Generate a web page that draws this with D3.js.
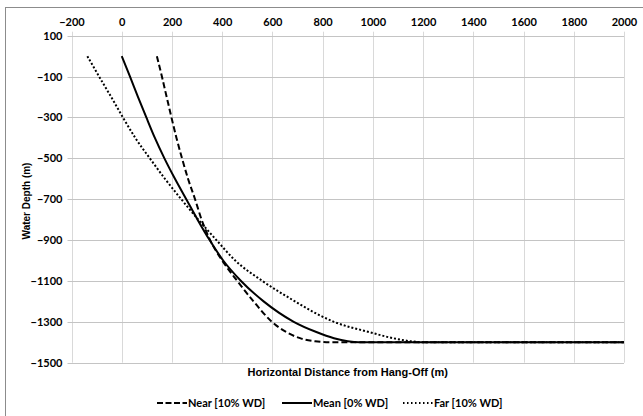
<!DOCTYPE html>
<html>
<head>
<meta charset="utf-8">
<script src="https://cdn.jsdelivr.net/npm/d3@7/dist/d3.min.js"></script>
<style>
body{margin:0;background:#fff;}
svg{display:block;}
</style>
</head>
<body>
<svg id="chart" width="643" height="416"></svg>
<script>
// ---- data ----
const xTicks = [-200,0,200,400,600,800,1000,1200,1400,1600,1800,2000];
const yTicks = [100,-100,-300,-500,-700,-900,-1100,-1300,-1500];

const nearX = [140,160,179,198,218,240,264,292,318,352,400,460,525,598,655,710,770,830,2000];
const nearY = [0,-100,-200,-300,-400,-500,-600,-700,-800,-900,-1000,-1100,-1200,-1300,-1350,-1380,-1395,-1400,-1400];

const meanX = [0,33,65,98,132,170,212,257,302,350,404,475,565,685,775,845,900,945,2000];
const meanY = [0,-100,-200,-300,-400,-500,-600,-700,-800,-900,-1000,-1100,-1200,-1300,-1350,-1380,-1395,-1400,-1400];

const farX = [-137,-90,-42,5,54,112,172,237,305,377,452,560,690,760,845,985,1080,1150,1200,2000];
const farY = [0,-100,-200,-300,-400,-500,-600,-700,-800,-900,-1000,-1100,-1200,-1250,-1300,-1350,-1380,-1395,-1400,-1400];

const seriesNames = ["Near [10% WD]","Mean [0% WD]","Far [10% WD]"];
const xTitle = "Horizontal Distance from Hang-Off (m)";
const yTitle = "Water Depth (m)";

// ---- chart ----
(function(){
const svg = d3.select("#chart");
const pLeft = 71.5, pRight = 624, pTop = 35.7, pBottom = 362.7;
const x = d3.scaleLinear().domain([-200,2000]).range([pLeft,pRight]);
const y = d3.scaleLinear().domain([100,-1500]).range([pTop,pBottom]);

svg.append("rect").attr("x",5.5).attr("y",7.5).attr("width",700).attr("height",500)
  .attr("fill","#fff").attr("stroke","#8c8c8c").attr("stroke-width",1);

const tickFont = "Lato, 'Open Sans', sans-serif";

// vertical grid
svg.append("g").selectAll("line").data(xTicks).join("line")
  .attr("x1",d=>Math.round(x(d))+0.5).attr("x2",d=>Math.round(x(d))+0.5)
  .attr("y1",pTop-4).attr("y2",pBottom)
  .attr("stroke","#d9d9d9").attr("stroke-width",1);
// horizontal grid
svg.append("g").selectAll("line").data(yTicks).join("line")
  .attr("y1",d=>Math.round(y(d))+0.5).attr("y2",d=>Math.round(y(d))+0.5)
  .attr("x1",pLeft-4).attr("x2",pRight)
  .attr("stroke","#c4c4c4").attr("stroke-width",1);

// top axis labels
const xAxis = d3.axisTop(x).tickValues(xTicks).tickSize(0).tickPadding(0).tickFormat(d3.format("d"));
const gx = svg.append("g").attr("transform",`translate(0,${pTop-10})`).call(xAxis);
gx.select(".domain").remove();
gx.selectAll("text").attr("font-family",tickFont).attr("font-weight","bold")
  .attr("font-size","11px").attr("fill","#000").attr("dy","0");

const yAxis = d3.axisLeft(y).tickValues(yTicks).tickSize(0).tickPadding(0).tickFormat(d3.format("d"));
const gy = svg.append("g").attr("transform",`translate(${pLeft-9},0)`).call(yAxis);
gy.select(".domain").remove();
gy.selectAll("text").attr("font-family",tickFont).attr("font-weight","bold")
  .attr("font-size","11px").attr("fill","#000");

// titles
svg.append("text").attr("x",(pLeft+pRight)/2).attr("y",375.5)
  .attr("text-anchor","middle").attr("font-family","'Liberation Sans', Arial, sans-serif")
  .attr("font-weight","bold").attr("font-size","11px").text(xTitle);
svg.append("text").attr("transform","translate(29.5,201) rotate(-90)")
  .attr("text-anchor","middle").attr("font-family","'Liberation Sans', Arial, sans-serif")
  .attr("font-weight","bold").attr("font-size","10px").text(yTitle);

// lines
const line = d3.line().x(d=>x(d[0])).y(d=>y(d[1])).curve(d3.curveMonotoneX);
const series = [
  {pts:d3.zip(nearX,nearY), dash:"6,3", ldash:"6,2.5"},
  {pts:d3.zip(meanX,meanY), dash:null, ldash:null},
  {pts:d3.zip(farX,farY), dash:"2,2", ldash:"1.5,2.5"}
];
svg.append("g").selectAll("path").data(series).join("path")
  .attr("d",d=>line(d.pts)).attr("fill","none").attr("stroke","#000")
  .attr("stroke-width",2).attr("stroke-dasharray",d=>d.dash);

// legend
const legX = [157,282,403];
const lg = svg.append("g").selectAll("g").data(series).join("g")
  .attr("transform",(d,i)=>`translate(${legX[i]},403)`);
lg.append("line").attr("x1",0).attr("x2",30).attr("y1",0).attr("y2",0)
  .attr("stroke","#000").attr("stroke-width",2).attr("stroke-dasharray",d=>d.ldash);
lg.append("text").attr("x",31).attr("y",4).attr("font-family",tickFont)
  .attr("font-weight","bold").attr("font-size","11px").text((d,i)=>seriesNames[i]);
})();
</script>
</body>
</html>
